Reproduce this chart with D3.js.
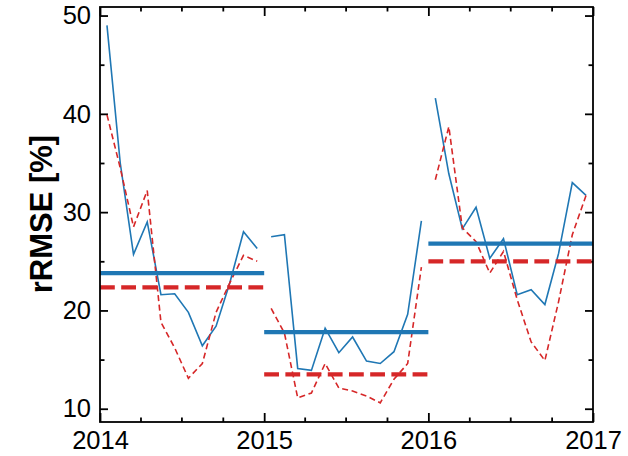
<!DOCTYPE html>
<html>
<head>
<meta charset="utf-8">
<script src="https://cdn.jsdelivr.net/npm/d3@7"></script>
<style>
  body { margin: 0; background: #fff; }
  svg { display: block; font-family: "Liberation Sans", Arial, sans-serif; }
</style>
</head>
<body>
<div id="chart-container"></div>
<script>
// years shown and tick labels
const years = [2014, 2015, 2016];
const xTickLabels = ["2014", "2015", "2016", "2017"];
const yTicks = [10, 20, 30, 40, 50];
const yMinorTicks = [15, 25, 35, 45];

// monthly rRMSE, blue solid series
const blue2014 = [49.0, 35.0, 25.7, 29.0, 21.6, 21.7, 19.8, 16.4, 18.4, 22.8, 28.0, 26.3];
const blue2015 = [27.5, 27.7, 14.1, 13.9, 18.2, 15.7, 17.3, 14.85, 14.6, 15.8, 19.6, 29.1];
const blue2016 = [41.6, 33.9, 28.3, 30.5, 25.3, 27.3, 21.6, 22.1, 20.6, 25.8, 33.0, 31.7];

// monthly rRMSE, red dashed series
const red2014 = [39.9, 34.5, 28.5, 32.2, 18.8, 16.2, 13.1, 14.6, 19.8, 22.8, 25.6, 25.0];
const red2015 = [20.2, 17.7, 11.1, 11.6, 14.6, 12.1, 11.8, 11.3, 10.6, 13.0, 14.6, 24.4];
const red2016 = [33.3, 38.7, 28.4, 27.0, 23.8, 26.0, 21.1, 16.8, 14.9, 20.9, 27.7, 31.7];

// annual rRMSE (thick lines)
const blueAnnual = [23.8, 17.8, 26.8];
const redAnnual = [22.35, 13.5, 25.0];

const W = 628, H = 456;
const margin = { top: 7, right: 35, bottom: 34, left: 100 };
const blueC = "#1f77b4", redC = "#d62728";

const svg = d3.select("#chart-container").append("svg")
  .attr("width", W).attr("height", H);

const x = d3.scaleUtc()
  .domain([new Date(Date.UTC(2014, 0, 1)), new Date(Date.UTC(2017, 0, 1))])
  .range([margin.left, W - margin.right]);
const y = d3.scaleLinear()
  .domain([8.65, 50.87])
  .range([H - margin.bottom, margin.top]);

// mid-month date
const midMonth = (yr, m) => new Date((Date.UTC(yr, m, 1) + Date.UTC(yr, m + 1, 1)) / 2);
const toPoints = (yr, vals) => vals.map((v, m) => ({ date: midMonth(yr, m), v }));

const yearDates = xTickLabels.map(t => new Date(Date.UTC(+t, 0, 1)));
const quarterDates = d3.utcMonth.range(yearDates[0], yearDates[3], 3)
  .filter(d => d.getUTCMonth() !== 0);

const fontSize = 25.5;

// axes, ticks pointing inward on all four sides
function styleAxis(g) {
  g.select(".domain").remove();
  g.selectAll(".tick line").attr("stroke", "#000").attr("stroke-width", 1.8);
  g.selectAll(".tick text").attr("fill", "#000").style("font-size", fontSize + "px");
}

svg.append("g")
  .attr("transform", `translate(0,${H - margin.bottom})`)
  .call(d3.axisBottom(x).tickValues(yearDates).tickSize(-9).tickPadding(9)
    .tickFormat((d, i) => xTickLabels[i]))
  .call(styleAxis);
svg.append("g")
  .attr("transform", `translate(0,${H - margin.bottom})`)
  .call(d3.axisBottom(x).tickValues(quarterDates).tickSize(-4.5).tickFormat(""))
  .call(styleAxis);
svg.append("g")
  .attr("transform", `translate(0,${margin.top})`)
  .call(d3.axisTop(x).tickValues(yearDates).tickSize(-9).tickFormat(""))
  .call(styleAxis);
svg.append("g")
  .attr("transform", `translate(0,${margin.top})`)
  .call(d3.axisTop(x).tickValues(quarterDates).tickSize(-4.5).tickFormat(""))
  .call(styleAxis);

svg.append("g")
  .attr("transform", `translate(${margin.left},0)`)
  .call(d3.axisLeft(y).tickValues(yTicks).tickSize(-8).tickPadding(9))
  .call(styleAxis);
svg.append("g")
  .attr("transform", `translate(${margin.left},0)`)
  .call(d3.axisLeft(y).tickValues(yMinorTicks).tickSize(-4.5).tickFormat(""))
  .call(styleAxis);
svg.append("g")
  .attr("transform", `translate(${W - margin.right},0)`)
  .call(d3.axisRight(y).tickValues(yTicks).tickSize(-8).tickFormat(""))
  .call(styleAxis);
svg.append("g")
  .attr("transform", `translate(${W - margin.right},0)`)
  .call(d3.axisRight(y).tickValues(yMinorTicks).tickSize(-4.5).tickFormat(""))
  .call(styleAxis);

// monthly lines
const line = d3.line().x(d => x(d.date)).y(d => y(d.v));
const blueSeries = [blue2014, blue2015, blue2016];
const redSeries = [red2014, red2015, red2016];

years.forEach((yr, i) => {
  svg.append("path")
    .datum(toPoints(yr, blueSeries[i]))
    .attr("d", line)
    .attr("fill", "none")
    .attr("stroke", blueC)
    .attr("stroke-width", 1.6);
  svg.append("path")
    .datum(toPoints(yr, redSeries[i]))
    .attr("d", line)
    .attr("fill", "none")
    .attr("stroke", redC)
    .attr("stroke-width", 1.6)
    .attr("stroke-dasharray", "6,3.6");
});

// annual lines
years.forEach((yr, i) => {
  const span = [new Date(Date.UTC(yr, 0, 1)), new Date(Date.UTC(yr + 1, 0, 1))];
  svg.append("path")
    .datum(span.map(d => ({ date: d, v: blueAnnual[i] })))
    .attr("d", line)
    .attr("fill", "none")
    .attr("stroke", blueC)
    .attr("stroke-width", 4.2);
  svg.append("path")
    .datum(span.map(d => ({ date: d, v: redAnnual[i] })))
    .attr("d", line)
    .attr("fill", "none")
    .attr("stroke", redC)
    .attr("stroke-width", 4.2)
    .attr("stroke-dasharray", "14.8,6.4");
});

// frame
svg.append("rect")
  .attr("x", margin.left).attr("y", margin.top)
  .attr("width", W - margin.left - margin.right)
  .attr("height", H - margin.top - margin.bottom)
  .attr("fill", "none")
  .attr("stroke", "#000")
  .attr("stroke-width", 1.8);

// y label
svg.append("text")
  .attr("transform", `translate(52,${y(29.8)}) rotate(-90)`)
  .attr("text-anchor", "middle")
  .style("font-size", "31px")
  .style("font-weight", "bold")
  .text("rRMSE [%]");
</script>
</body>
</html>
